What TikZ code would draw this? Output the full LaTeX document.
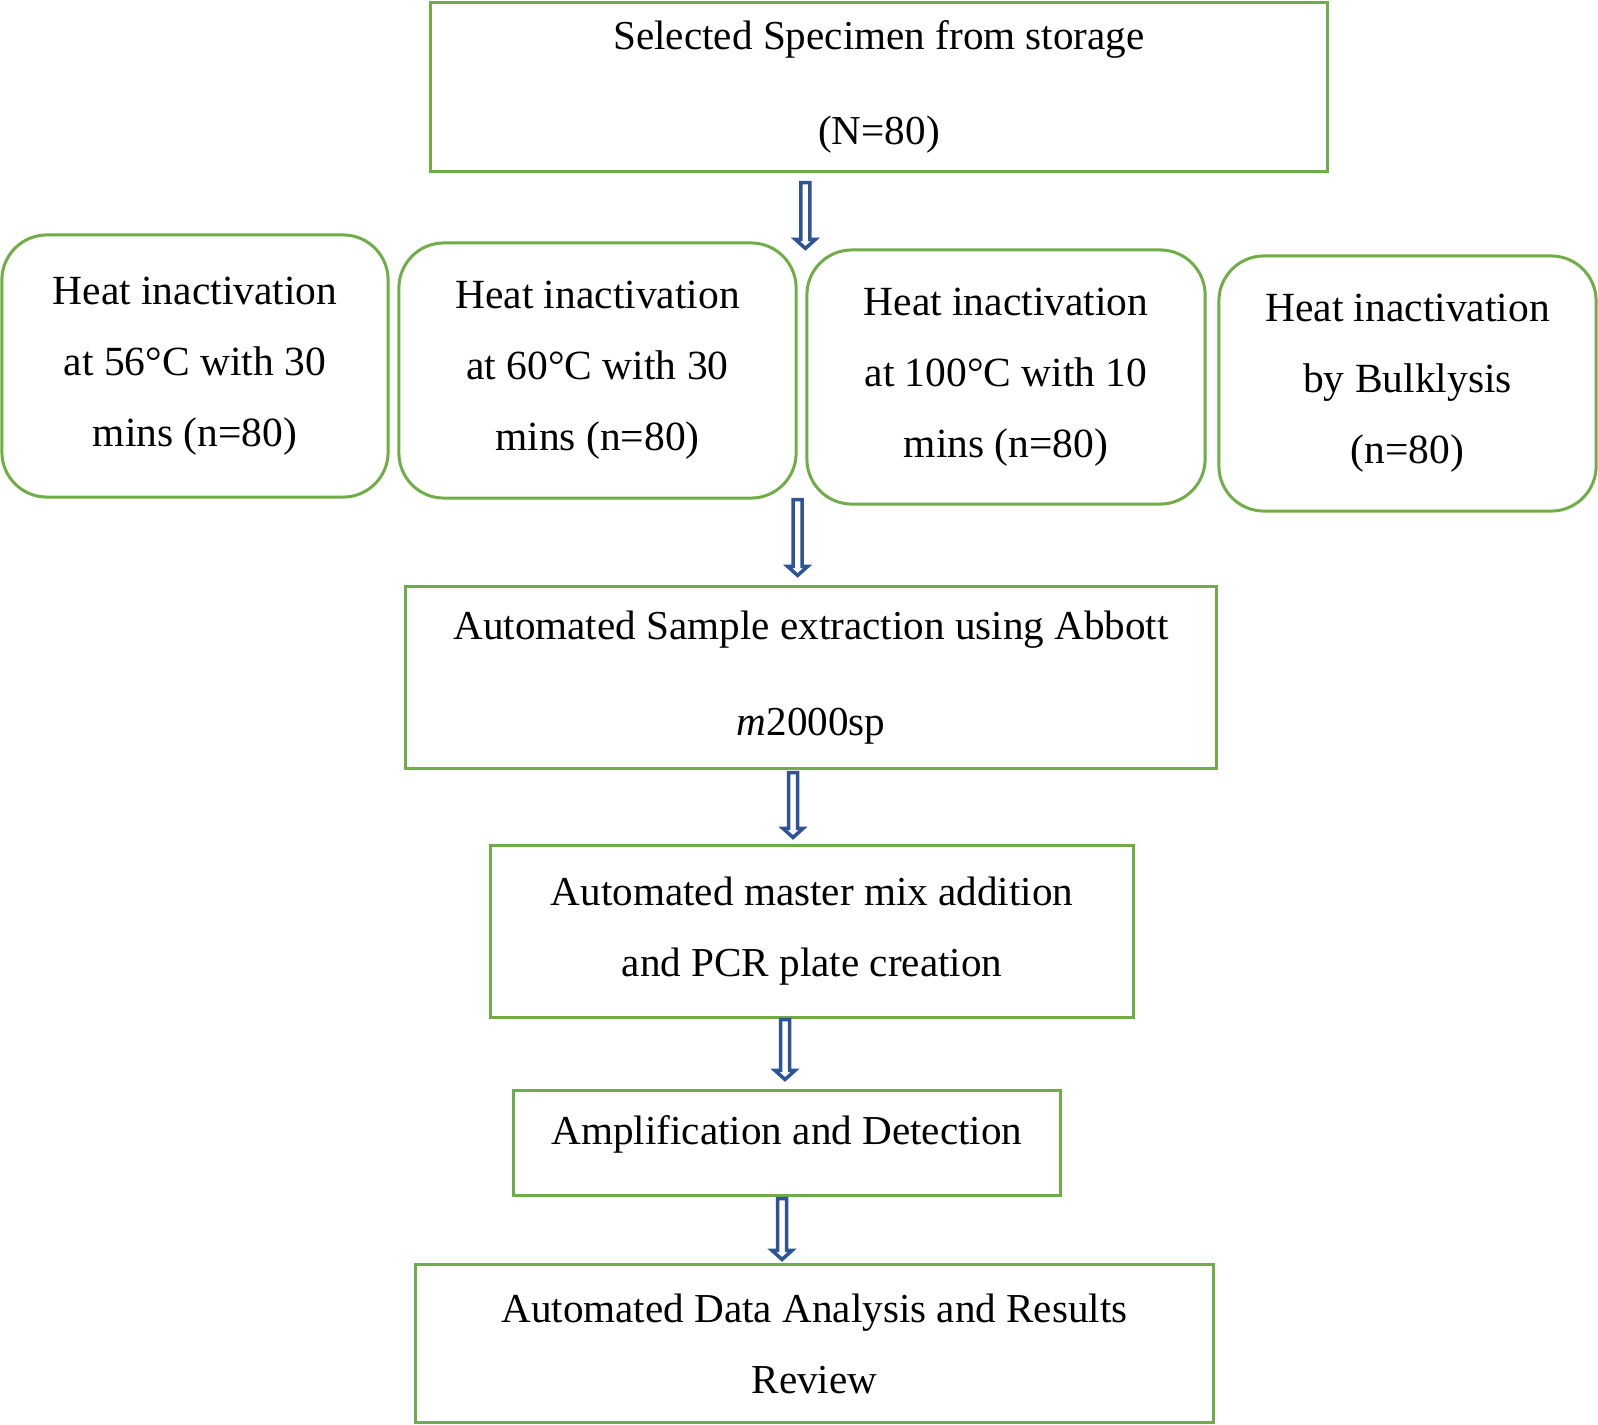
\documentclass[tikz,border=0pt]{standalone}
\usepackage{fontspec}
\setmainfont{Liberation Serif}
\usetikzlibrary{calc}
\definecolor{cgreen}{RGB}{112,173,71}
\definecolor{cblue}{RGB}{47,84,150}

\begin{document}
\begin{tikzpicture}[x=0.01cm, y=-0.01cm,
    sqbox/.style={draw=cgreen, line width=0.03cm, align=center, inner sep=0pt, font=\fontsize{11.7}{20.2}\selectfont},
    rndbox/.style={sqbox, rounded corners=0.45cm, font=\fontsize{11.8}{20.2}\selectfont},
    hollow/.style={draw=cblue, line width=0.035cm, fill=white, line join=miter,
      to path={let \p1=(\tikztostart), \p2=(\tikztotarget) in
        ({\x1-0.045cm},\y1) -- ({\x1+0.045cm},\y1) -- ({\x1+0.045cm},{\y2+0.09cm}) -- ({\x1+0.1cm},{\y2+0.09cm})
        -- (\x1,\y2) -- ({\x1-0.1cm},{\y2+0.09cm}) -- ({\x1-0.045cm},{\y2+0.09cm}) -- cycle}}]
  \useasboundingbox (0,0) rectangle (1598,1424);

  % specimen
  \node[sqbox, minimum width=8.96cm, minimum height=1.68cm, font=\fontsize{11.7}{27.2}\selectfont] (top) at (879,87)
    {Selected Specimen from storage\\(N=80)};

  % inactivation methods
  \node[rndbox, minimum width=3.86cm, minimum height=2.62cm] (h56) at (195,366)
    {Heat inactivation\\at 56°C with 30\\mins (n=80)};
  \node[rndbox, minimum width=3.97cm, minimum height=2.55cm] (h60) at (597.5,370.5)
    {Heat inactivation\\at 60°C with 30\\mins (n=80)};
  \node[rndbox, minimum width=3.98cm, minimum height=2.54cm] (h100) at (1006,377)
    {Heat inactivation\\at 100°C with 10\\mins (n=80)};
  \node[rndbox, minimum width=3.77cm, minimum height=2.55cm] (hbulk) at (1407.5,383.5)
    {Heat inactivation\\by Bulklysis\\(n=80)};

  % processing steps
  \node[sqbox, minimum width=8.1cm, minimum height=1.81cm, font=\fontsize{11.7}{27.2}\selectfont] (extract) at (811,677.5)
    {Automated Sample extraction using Abbott\\\textit{m}2000sp};
  \node[sqbox, minimum width=6.42cm, minimum height=1.71cm] (mix) at (812,931.5)
    {Automated master mix addition\\and PCR plate creation};
  \node[sqbox, minimum width=5.46cm, minimum height=1.04cm, text height=0.3cm, text depth=0.266cm] (amp) at (787,1143)
    {Amplification and Detection};
  \node[sqbox, minimum width=7.97cm, minimum height=1.57cm] (data) at (814.5,1343.5)
    {Automated Data Analysis and Results\\Review};

  % arrows
  \draw[hollow] ($(top.south -| h100.west)+(0,10)$) to (h100.north west);
  \draw[hollow] (h60.south east) to ($(extract.north -| h60.east)+(0,-10)$);
  \draw[hollow] ($(extract.south)+(-18,3)$) to ($(mix.north)+(-19,-7)$);
  \draw[hollow] ($(amp.north |- mix.south)+(-2,1)$) to ($(amp.north)+(-2,-10)$);
  \draw[hollow] ($(amp.south)+(-5,2)$) to ($(data.north)+(-32,-4)$);
\end{tikzpicture}
\end{document}
